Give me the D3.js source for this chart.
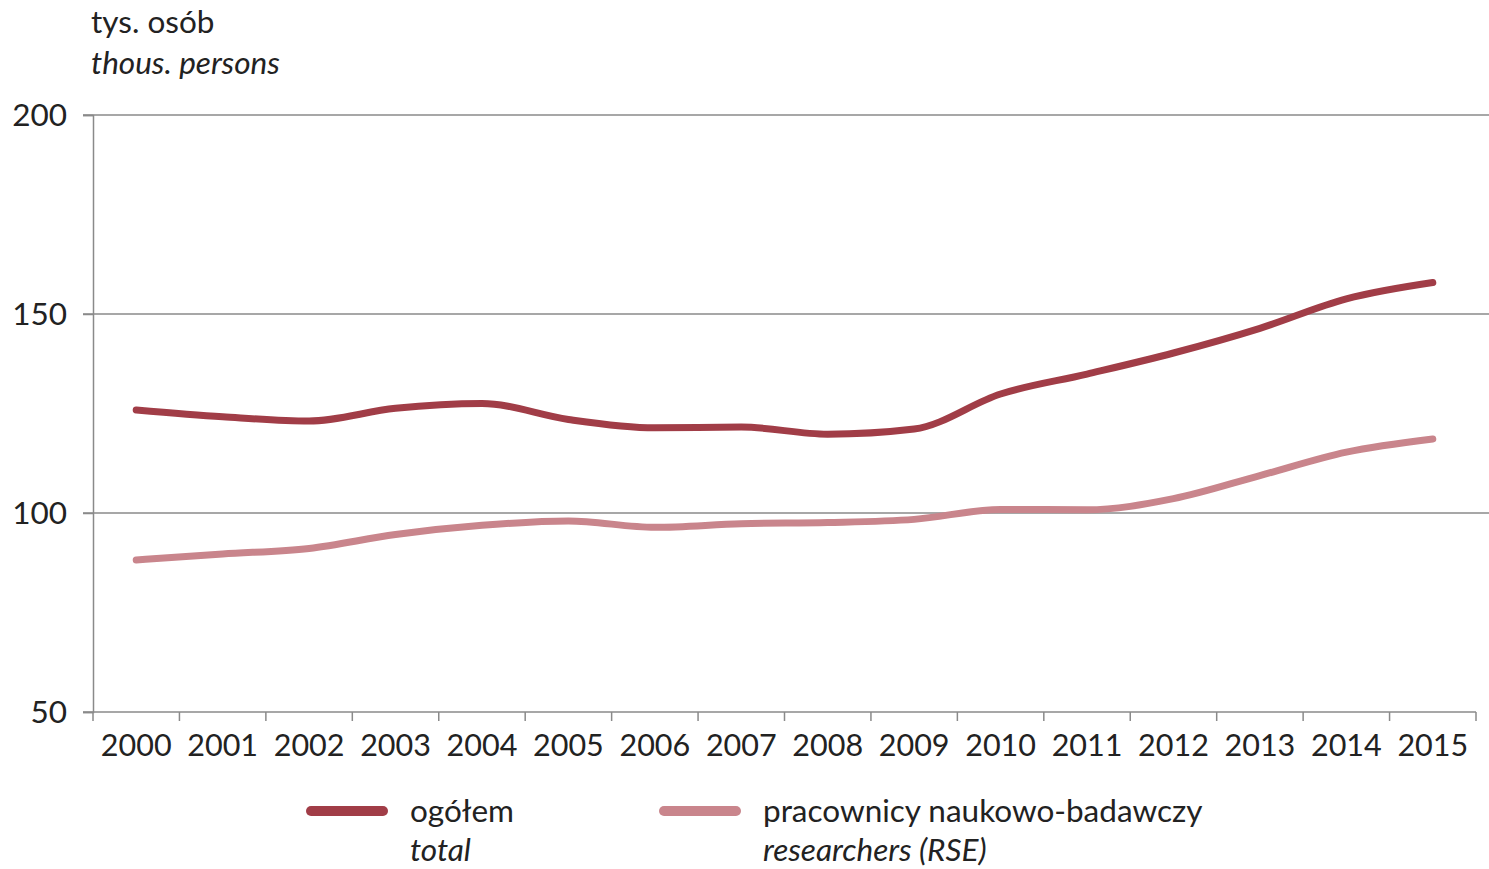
<!DOCTYPE html>
<html>
<head>
<meta charset="utf-8">
<script src="https://cdn.jsdelivr.net/npm/d3@7"></script>
<style>
  html, body { margin: 0; padding: 0; background: #fff; }
  svg { display: block; }
  text { font-family: Lato, "Open Sans", sans-serif; fill: #222; }
</style>
</head>
<body>
<svg id="chart" width="1489" height="869"></svg>
<script>
// Employment in R&D, thousand persons
const years = ["2000","2001","2002","2003","2004","2005","2006","2007","2008","2009","2010","2011","2012","2013","2014","2015"];
const totalValues = [125.9, 124.2, 123.1, 126.3, 127.5, 123.5, 121.4, 121.6, 119.8, 121.1, 129.9, 134.9, 140.2, 146.4, 153.8, 157.9];
const researcherValues = [88.2, 89.7, 91.1, 94.6, 96.9, 98.0, 96.4, 97.3, 97.6, 98.4, 100.9, 100.8, 103.6, 109.4, 115.3, 118.6];
const yTicks = [50, 100, 150, 200];

const seriesNames = [
  { pl: "ogółem", en: "total", values: totalValues, color: "#a13d47" },
  { pl: "pracownicy naukowo-badawczy", en: "researchers (RSE)", values: researcherValues, color: "#c9858c" }
];

const svg = d3.select("#chart");
const plotLeft = 93, plotRight = 1476, plotTop = 115, plotBottom = 712;
const fs = "31.5px";

const x = d3.scaleBand().domain(years).range([plotLeft, plotRight]);
const y = d3.scaleLinear().domain([50, 200]).range([plotBottom, plotTop]);

// unit caption
svg.append("text").attr("x", 91).attr("y", 33).style("font-size", fs).text("tys. osób");
svg.append("text").attr("x", 91).attr("y", 74).style("font-size", fs).style("font-style", "italic").text("thous. persons");

// horizontal gridlines
svg.append("g").selectAll("line").data(yTicks.filter(d => d > 50)).join("line")
  .attr("x1", plotLeft - 10).attr("x2", 1489)
  .attr("y1", d => y(d)).attr("y2", d => y(d))
  .attr("stroke", "#8a8a8a").attr("stroke-width", 1.5);

// y axis
const yAxis = svg.append("g").attr("transform", `translate(${plotLeft},0)`)
  .call(d3.axisLeft(y).tickValues(yTicks).tickSize(10).tickPadding(16));
yAxis.select(".domain").attr("stroke", "#8a8a8a").attr("stroke-width", 1.5);
yAxis.selectAll(".tick line").attr("stroke", "#8a8a8a").attr("stroke-width", 1.5);
yAxis.selectAll(".tick text").style("font-size", fs).style("font-family", "Lato, sans-serif").attr("fill", "#222");

// x axis with ticks on category boundaries
const xAxisG = svg.append("g").attr("transform", `translate(0,${plotBottom})`);
xAxisG.append("line").attr("x1", plotLeft - 10).attr("x2", plotRight).attr("y1", 0).attr("y2", 0)
  .attr("stroke", "#8a8a8a").attr("stroke-width", 1.5);
xAxisG.selectAll("line.tk").data(years.concat(["end"])).join("line").attr("class", "tk")
  .attr("x1", (d, i) => i < years.length ? x(d) : plotRight)
  .attr("x2", (d, i) => i < years.length ? x(d) : plotRight)
  .attr("y1", 0).attr("y2", 9)
  .attr("stroke", "#8a8a8a").attr("stroke-width", 1.5);
xAxisG.selectAll("text").data(years).join("text")
  .attr("x", d => x(d) + x.bandwidth() / 2).attr("y", 44)
  .attr("text-anchor", "middle").style("font-size", "30.5px").text(d => d);

// series lines
const line = d3.line()
  .x((d, i) => x(years[i]) + x.bandwidth() / 2)
  .y(d => y(d))
  .curve(d3.curveMonotoneX);

svg.append("g").selectAll("path").data(seriesNames.slice().reverse()).join("path")
  .attr("d", s => line(s.values))
  .attr("fill", "none").attr("stroke", s => s.color)
  .attr("stroke-width", 7).attr("stroke-linecap", "round").attr("stroke-linejoin", "round");

// legend
const legendX = [307, 660];
const lg = svg.append("g").selectAll("g").data(seriesNames).join("g")
  .attr("transform", (d, i) => `translate(${legendX[i]},0)`);
lg.append("line").attr("x1", 4).attr("x2", 76).attr("y1", 811).attr("y2", 811)
  .attr("stroke", d => d.color).attr("stroke-width", 10).attr("stroke-linecap", "round");
lg.append("text").attr("x", 103).attr("y", 822).style("font-size", fs).text(d => d.pl);
lg.append("text").attr("x", 103).attr("y", 861).style("font-size", fs).style("font-style", "italic").text(d => d.en);
</script>
</body>
</html>
